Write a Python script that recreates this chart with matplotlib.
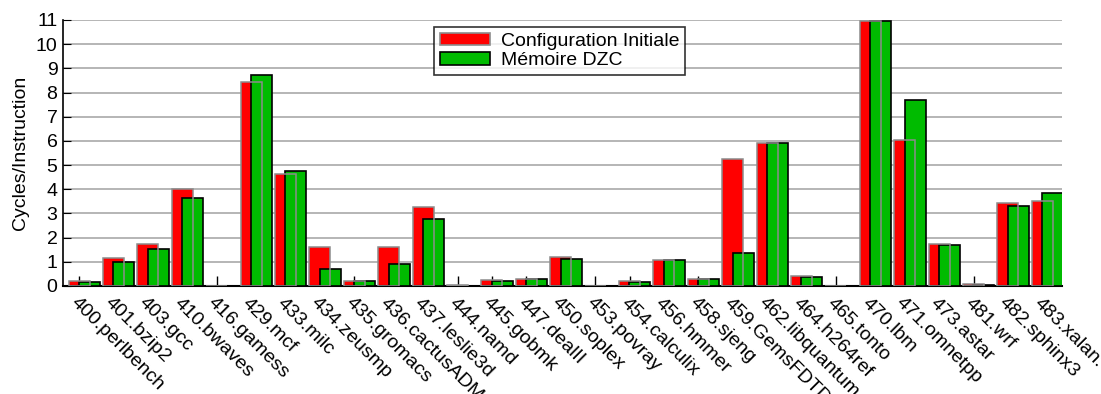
import numpy as np
import matplotlib
matplotlib.use("Agg")
from matplotlib import pyplot as plt
from matplotlib.patches import Patch

plt.rcParams["font.family"] = ["Liberation Sans", "DejaVu Sans"]

benchmarks = [
    "400.perlbench", "401.bzip2", "403.gcc", "410.bwaves", "416.gamess",
    "429.mcf", "433.milc", "434.zeusmp", "435.gromacs", "436.cactusADM",
    "437.leslie3d", "444.namd", "445.gobmk", "447.dealII", "450.soplex",
    "453.povray", "454.calculix", "456.hmmer", "458.sjeng", "459.GemsFDTD",
    "462.libquantum", "464.h264ref", "465.tonto", "470.lbm", "471.omnetpp",
    "473.astar", "481.wrf", "482.sphinx3", "483.xalan.",
]
cpi_initiale = [
    0.20, 1.17, 1.74, 4.01, 0.0,
    8.43, 4.64, 1.61, 0.20, 1.61,
    3.26, 0.03, 0.26, 0.30, 1.21,
    0.0, 0.19, 1.09, 0.29, 5.25,
    5.92, 0.41, 0.0, 10.97, 6.05,
    1.74, 0.08, 3.44, 3.51,
]
cpi_dzc = [
    0.18, 0.99, 1.53, 3.64, 0.02,
    8.73, 4.77, 0.72, 0.19, 0.90,
    2.78, 0.02, 0.22, 0.28, 1.13,
    0.02, 0.18, 1.09, 0.30, 1.38,
    5.92, 0.39, 0.02, 10.97, 7.70,
    1.71, 0.03, 3.32, 3.86,
]

red = "#ff0000"
green = "#00bb00"
grey = "#8c8c8c"
fs = 14

fig = plt.figure(figsize=(11.01, 3.94), dpi=100)
ax = fig.add_axes([63 / 1101, 1 - 286 / 394, (1062 - 63) / 1101, 266 / 394])

x = np.arange(len(benchmarks))
w = 0.61
off = 0.30

ax.bar(x, cpi_initiale, w, color=red, edgecolor="none", zorder=2)
ax.bar(x + off, cpi_dzc, w, color=green, edgecolor="black", linewidth=1.2, zorder=3)
# outline of the first series stays visible over the second one
ax.bar(x, cpi_initiale, w, fill=False, edgecolor=grey, linewidth=1.1, zorder=4)

ax.set_xlim(-0.47, len(benchmarks) - 1 + 0.57)
ax.set_ylim(0, 11)
ax.set_yticks(range(0, 12))
ax.yaxis.grid(True, color="#b0b0b0", linewidth=1.3, zorder=0)
ax.set_axisbelow(True)

for side in ["top", "right"]:
    ax.spines[side].set_visible(False)
ax.spines["left"].set_linewidth(1.2)
ax.spines["bottom"].set_linewidth(1.5)

ax.set_xticks(x)
ax.set_xticklabels(benchmarks, rotation=-45, ha="left", va="top",
                   rotation_mode="anchor", fontsize=fs)
ax.tick_params(axis="x", direction="in", length=7, width=1, pad=6)
ax.tick_params(axis="y", direction="in", length=6, labelsize=fs, pad=4)

ax.set_ylabel("Cycles/Instruction", fontsize=fs, labelpad=5)

handles = [
    Patch(facecolor=red, edgecolor=grey, linewidth=1.2, label="Configuration Initiale"),
    Patch(facecolor=green, edgecolor="black", linewidth=1.2, label="Mémoire DZC"),
]
leg = ax.legend(handles=handles, loc="upper left",
                bbox_to_anchor=((434 - 63) / 999, (286 - 27) / 266),
                fontsize=fs, frameon=True, fancybox=False, borderpad=0.3,
                handlelength=2.6, handleheight=0.6, labelspacing=0.12,
                handletextpad=0.55, borderaxespad=0)
leg.get_frame().set_edgecolor("black")
leg.get_frame().set_linewidth(1.2)

fig.savefig("out.png", dpi=100)
